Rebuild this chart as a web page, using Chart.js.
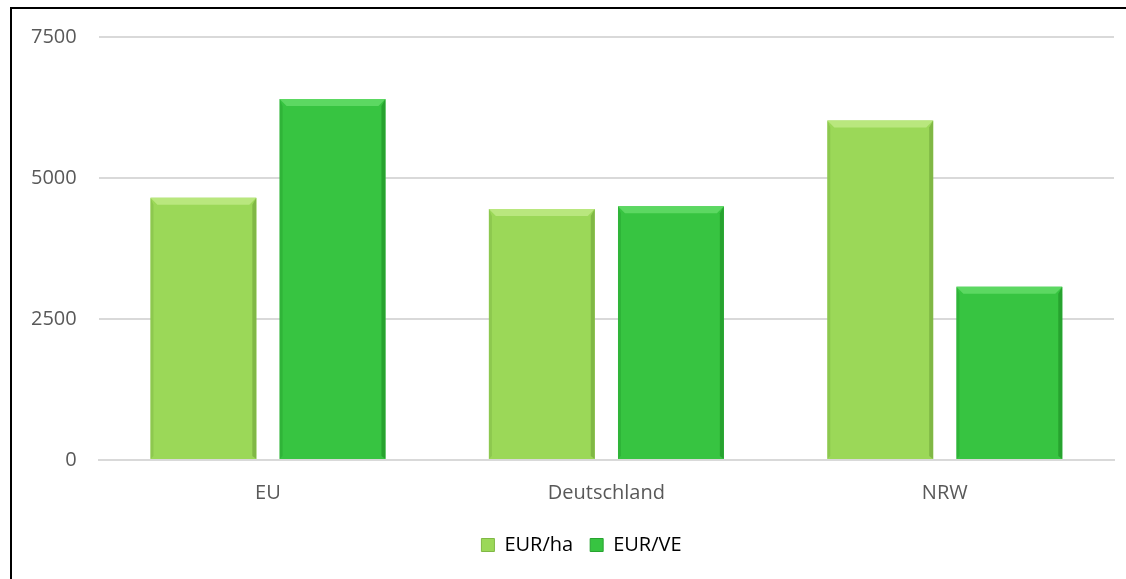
<!DOCTYPE html>
<html>
<head>
<meta charset="utf-8">
<script src="https://cdn.jsdelivr.net/npm/chart.js@4"></script>
<style>
  body { margin: 0; background: #fff; }
  #frame { position: absolute; left: 10px; top: 7px; width: 1116px; height: 572px;
           border-left: 2px solid #000; border-top: 2px solid #000; }
  #wrap { position: absolute; left: 0; top: 0; width: 1126px; height: 579px; }
</style>
</head>
<body>
<div id="frame"></div>
<div id="wrap"><canvas id="chart"></canvas></div>
<script>
const categories = ["EU", "Deutschland", "NRW"];
const seriesNames = ["EUR/ha", "EUR/VE"];
const eurPerHa = [4650, 4450, 6020];
const eurPerVe = [6400, 4500, 3070];
const yTicks = [0, 2500, 5000, 7500];

const fillColors = ["#9bd858", "#37c441"];
const topColors = ["#b9e77e", "#5cd862"];
const edgeColors = ["#80b845", "#27a32f"];

// Draw a bevel look on each bar (top highlight, darker right edge)
const bevelPlugin = {
  id: "bevel",
  afterDatasetsDraw(chart) {
    const ctx = chart.ctx;
    chart.data.datasets.forEach((ds, i) => {
      chart.getDatasetMeta(i).data.forEach((bar) => {
        const left = bar.x - bar.width / 2;
        const right = bar.x + bar.width / 2;
        const top = bar.y;
        const bottom = bar.base;
        const b = 7;
        ctx.save();
        // top bevel
        ctx.fillStyle = topColors[i];
        ctx.beginPath();
        ctx.moveTo(left, top);
        ctx.lineTo(right, top);
        ctx.lineTo(right - b, top + b);
        ctx.lineTo(left + b, top + b);
        ctx.closePath();
        ctx.fill();
        // right edge
        ctx.fillStyle = edgeColors[i];
        ctx.beginPath();
        ctx.moveTo(right, top);
        ctx.lineTo(right, bottom);
        ctx.lineTo(right - 4, bottom - 3);
        ctx.lineTo(right - 4, top + b);
        ctx.closePath();
        ctx.fill();
        // left edge
        ctx.globalAlpha = 0.5;
        ctx.beginPath();
        ctx.moveTo(left, top);
        ctx.lineTo(left, bottom);
        ctx.lineTo(left + 3, bottom - 3);
        ctx.lineTo(left + 3, top + b);
        ctx.closePath();
        ctx.fill();
        ctx.restore();
      });
    });
  },
};

// Legend sits a bit right of the canvas centre in the original
const legendShift = {
  id: "legendShift",
  afterLayout(chart) {
    chart.legend.left += 20;
    chart.legend.right += 20;
  },
};

Chart.defaults.font.family = "'Open Sans', 'Noto Sans', sans-serif";
Chart.defaults.color = "#595959";

new Chart(document.getElementById("chart"), {
  type: "bar",
  data: {
    labels: categories,
    datasets: [
      {
        label: seriesNames[0],
        data: eurPerHa,
        backgroundColor: fillColors[0],
        categoryPercentage: 0.763,
        barPercentage: 0.82,
      },
      {
        label: seriesNames[1],
        data: eurPerVe,
        backgroundColor: fillColors[1],
        categoryPercentage: 0.763,
        barPercentage: 0.82,
      },
    ],
  },
  options: {
    responsive: true,
    maintainAspectRatio: false,
    animation: false,
    layout: { padding: { top: 37, right: 12, left: 9, bottom: 14 } },
    plugins: {
      legend: {
        position: "bottom",
        labels: {
          boxWidth: 13,
          boxHeight: 13,
          padding: 17,
          font: { size: 20 },
          generateLabels: (chart) =>
            seriesNames.map((name, i) => ({
              text: name,
              fillStyle: fillColors[i],
              strokeStyle: edgeColors[i],
              lineWidth: 1,
              datasetIndex: i,
            })),
        },
      },
      tooltip: { enabled: false },
    },
    scales: {
      x: {
        grid: { display: false },
        border: { color: "#d9d9d9", width: 2 },
        ticks: { font: { size: 20 }, padding: 13 },
      },
      y: {
        min: 0,
        max: 7500,
        afterBuildTicks: (axis) => {
          axis.ticks = yTicks.map((v) => ({ value: v }));
        },
        grid: { color: "#d9d9d9", lineWidth: 2, drawTicks: false },
        border: { display: false },
        ticks: { font: { size: 20 }, padding: 22, callback: (v) => String(v) },
      },
    },
  },
  plugins: [bevelPlugin, legendShift],
});
</script>
</body>
</html>
